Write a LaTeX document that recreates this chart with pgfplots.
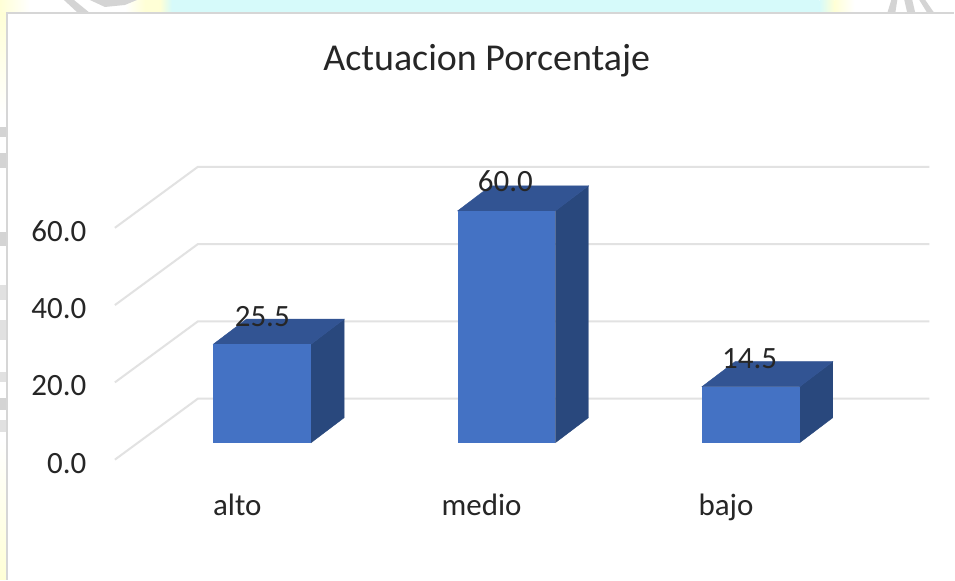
\documentclass[border=0pt]{standalone}
\usepackage{pgfplots}
\pgfplotsset{compat=1.18}
\usepackage{fontspec}
\setmainfont{Carlito}
\definecolor{front}{RGB}{68,114,196}
\definecolor{topf}{RGB}{50,84,147}
\definecolor{sidef}{RGB}{41,72,125}
\definecolor{gridc}{RGB}{226,226,226}
\definecolor{frameg}{RGB}{214,214,214}
\definecolor{pyel}{RGB}{255,255,214}
\definecolor{pcya}{RGB}{214,250,250}
\definecolor{wm}{RGB}{212,212,212}
\newcommand\PX[2]{(rel axis cs:{(#1)/955},{1-(#2)/580})}
\begin{document}
\begin{tikzpicture}
\begin{axis}[
  width=955pt,height=580pt,scale only axis,
  xmin=-1.0736,xmax=2.8323,ymin=-35.43,ymax=114.56,
  clip=false,
  axis on top=true,
  axis line style={draw=none},
  major tick style={draw=none},
  xtick={0,1,2},xticklabels={alto,medio,bajo},
  ytick={-4.4,15.6,35.6,55.6},yticklabels={0.0,20.0,40.0,60.0},
  tick label style={font=\fontsize{31}{34}\selectfont,text=black!85},
  xticklabel style={anchor=center,xshift=-25pt,yshift=72pt,text height=21pt,text depth=6pt},
  yticklabel style={anchor=east,xshift=90pt,yshift=-3.5pt},
  /pgf/number format/assume math mode=true,
  title={Actuacion Porcentaje},
  title style={at={(rel axis cs:0.51,0.885)},anchor=center,font=\fontsize{38}{42}\selectfont,text=black!85},
]
% page background
\fill[white] \PX{0}{0} rectangle \PX{955}{580};
\shade[left color=pyel,right color=white] \PX{0}{0} rectangle \PX{30}{13};
\shade[left color=white,right color=pyel] \PX{125}{0} rectangle \PX{145}{13};
\fill[pyel] \PX{145}{0} rectangle \PX{160}{13};
\shade[left color=pyel,right color=pcya] \PX{160}{0} rectangle \PX{172}{13};
\fill[pcya] \PX{172}{0} rectangle \PX{820}{13};
\shade[left color=pcya,right color=pyel] \PX{820}{0} rectangle \PX{835}{13};
\shade[left color=pyel,right color=white] \PX{835}{0} rectangle \PX{855}{13};
\shade[top color=pyel,bottom color=white] \PX{0}{13} rectangle \PX{7}{115};
\shade[top color=white,bottom color=pyel] \PX{0}{440} rectangle \PX{7}{580};
% watermark traces
\fill[wm] \PX{64}{0} -- \PX{74}{0} -- \PX{90}{13} -- \PX{78}{13} -- cycle;
\fill[wm] \PX{90}{0} -- \PX{137}{0} -- \PX{125}{5} -- \PX{105}{7} -- cycle;
\fill[wm] \PX{888}{13} -- \PX{892}{0} -- \PX{898}{0} -- \PX{896}{13} -- cycle;
\fill[wm] \PX{905}{0} -- \PX{913}{0} -- \PX{916}{13} -- \PX{908}{13} -- cycle;
\fill[wm] \PX{920}{0} -- \PX{926}{0} -- \PX{935}{13} -- \PX{928}{13} -- cycle;
\fill[wm] \PX{0}{127} rectangle \PX{7}{137};
\fill[wm] \PX{0}{153} rectangle \PX{7}{168};
\fill[wm] \PX{0}{232} rectangle \PX{7}{246};
\fill[wm!70] \PX{0}{285} rectangle \PX{7}{300};
\fill[wm!70] \PX{0}{320} rectangle \PX{7}{340};
\fill[wm!70] \PX{0}{372} rectangle \PX{7}{382};
\fill[wm] \PX{0}{398} rectangle \PX{7}{410};
\fill[wm!70] \PX{0}{420} rectangle \PX{7}{432};
% chart panel
\fill[white] \PX{7}{13} rectangle \PX{955}{580};
\draw[frameg,line width=1.5pt] \PX{7}{580} -- \PX{7}{13} -- \PX{955}{13};
% gridlines: left wall, back wall
\addplot[gridc,line width=2pt,forget plot] coordinates {(-0.6033,-4.4) (-0.2638,11.38) (2.730,11.38)};
\addplot[gridc,line width=2pt,forget plot] coordinates {(-0.6033,15.6) (-0.2638,31.38) (2.730,31.38)};
\addplot[gridc,line width=2pt,forget plot] coordinates {(-0.6033,35.6) (-0.2638,51.38) (2.730,51.38)};
\addplot[gridc,line width=2pt,forget plot] coordinates {(-0.6033,55.6) (-0.2638,71.38) (2.730,71.38)};
% alto
\addplot[fill=sidef,draw=sidef,line width=0.4pt,forget plot] coordinates {(0.2,0) (0.335,6.46) (0.335,31.96) (0.2,25.5)} -- cycle;
\addplot[fill=topf,draw=topf,line width=0.4pt,forget plot] coordinates {(-0.2,25.5) (0.2,25.5) (0.335,31.96) (-0.065,31.96)} -- cycle;
\addplot[fill=front,draw=none,forget plot] coordinates {(-0.2,0) (0.2,0) (0.2,25.5) (-0.2,25.5)} -- cycle;
% medio
\addplot[fill=sidef,draw=sidef,line width=0.4pt,forget plot] coordinates {(1.2,0) (1.335,6.46) (1.335,66.46) (1.2,60)} -- cycle;
\addplot[fill=topf,draw=topf,line width=0.4pt,forget plot] coordinates {(0.8,60) (1.2,60) (1.335,66.46) (0.935,66.46)} -- cycle;
\addplot[fill=front,draw=none,forget plot] coordinates {(0.8,0) (1.2,0) (1.2,60) (0.8,60)} -- cycle;
% bajo
\addplot[fill=sidef,draw=sidef,line width=0.4pt,forget plot] coordinates {(2.2,0) (2.335,6.46) (2.335,20.96) (2.2,14.5)} -- cycle;
\addplot[fill=topf,draw=topf,line width=0.4pt,forget plot] coordinates {(1.8,14.5) (2.2,14.5) (2.335,20.96) (1.935,20.96)} -- cycle;
\addplot[fill=front,draw=none,forget plot] coordinates {(1.8,0) (2.2,0) (2.2,14.5) (1.8,14.5)} -- cycle;
% value labels
\addplot[only marks,mark=none,nodes near coords,point meta=explicit symbolic,
  nodes near coords style={font=\fontsize{31}{34}\selectfont,text=black!85,anchor=center,inner sep=0pt},forget plot]
  coordinates {(0,32.5) [25.5] (0.995,67.6) [60.0] (1.995,21.8) [14.5]};
\end{axis}
\end{tikzpicture}
\end{document}
